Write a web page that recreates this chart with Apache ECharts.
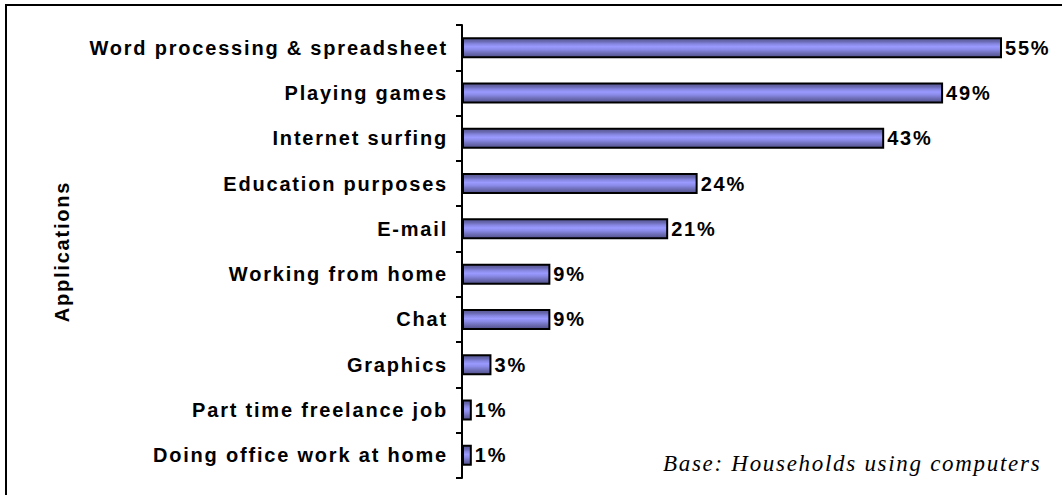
<!DOCTYPE html>
<html>
<head>
<meta charset="utf-8">
<script src="https://cdn.jsdelivr.net/npm/echarts@6/dist/echarts.min.js"></script>
<style>
  html, body { margin: 0; padding: 0; background: #fff; }
  #chart { width: 1062px; height: 495px; }
  /* 原图文字间距较宽 */
  #chart text { letter-spacing: 1.8px; }
  #chart text[style*="italic"] { letter-spacing: 1.7px; }
</style>
</head>
<body>
<div id="chart"></div>
<script>
// 数据
var categories = [
  'Word processing & spreadsheet',
  'Playing games',
  'Internet surfing',
  'Education purposes',
  'E-mail',
  'Working from home',
  'Chat',
  'Graphics',
  'Part time freelance job',
  'Doing office work at home'
];
var values = [55, 49, 43, 24, 21, 9, 9, 3, 1, 1];

var myChart = echarts.init(document.getElementById('chart'), null, { renderer: 'svg' });

var barColor = new echarts.graphic.LinearGradient(0, 0, 0, 1, [
  { offset: 0, color: '#55558f' },
  { offset: 0.18, color: '#6a6ab4' },
  { offset: 0.3, color: '#8585e0' },
  { offset: 0.45, color: '#9a9aff' },
  { offset: 0.6, color: '#8a8ae8' },
  { offset: 0.78, color: '#6e6eb8' },
  { offset: 1, color: '#50508a' }
]);

var boldFont = {
  fontFamily: 'Liberation Sans, Arial',
  fontWeight: 'bold',
  fontSize: 20,
  color: '#000'
};

var option = {
  animation: false,
  grid: { left: 462, top: 25, width: 540, height: 453 },
  xAxis: {
    type: 'value',
    min: 0,
    max: 55,
    show: false
  },
  yAxis: {
    type: 'category',
    inverse: true,
    data: categories,
    name: 'Applications',
    nameLocation: 'middle',
    nameRotate: 90,
    nameGap: 390,
    nameTextStyle: boldFont,
    axisLine: { show: true, lineStyle: { color: '#000', width: 2 } },
    axisTick: { show: true, length: 6, lineStyle: { color: '#000', width: 2 } },
    axisLabel: Object.assign({ margin: 14 }, boldFont),
    splitLine: { show: false }
  },
  series: [{
    type: 'bar',
    data: values,
    barWidth: 21,
    itemStyle: {
      color: barColor,
      borderColor: '#000',
      borderWidth: 2
    },
    label: Object.assign({
      show: true,
      position: 'right',
      distance: 3,
      formatter: '{c}%'
    }, boldFont)
  }],
  graphic: [
    {
      type: 'rect',
      shape: { x: 6, y: 5, width: 1100, height: 540 },
      style: { fill: 'none', stroke: '#000', lineWidth: 2 }
    },
    {
      type: 'text',
      left: 663,
      top: 452,
      style: {
        text: 'Base: Households using computers',
        fontStyle: 'italic',
        fontSize: 23,
        fontFamily: 'Liberation Serif',
        fill: '#000'
      }
    }
  ]
};

myChart.setOption(option);
</script>
</body>
</html>
